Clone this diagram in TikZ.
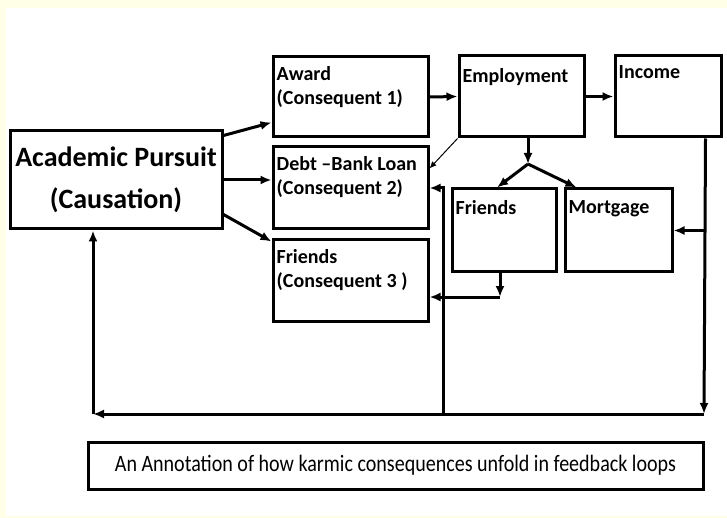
\documentclass[tikz,border=0pt]{standalone}
\usepackage{fontspec}
\setmainfont{Carlito}
\newfontfamily\notefont[FakeStretch=0.853]{Carlito}
\usetikzlibrary{arrows.meta}
\definecolor{paper}{HTML}{FFFFE8}
\tikzset{
  box/.style={draw,line width=3pt,inner sep=0pt},
  lbl/.style={font=\fontsize{20}{24}\selectfont\bfseries,align=left,inner sep=0pt,
    anchor=north west,xshift=5pt,yshift=-11pt},
  link/.style={line width=3pt,-{Latex[length=11pt,width=9pt]}},
  thinlink/.style={line width=1pt,-{Latex[length=7pt,width=6pt]}},
}
\begin{document}
\begin{tikzpicture}[x=1pt,y=-1pt]
  \useasboundingbox (0,0) rectangle (727,518);
  \fill[paper] (0,0) rectangle (727,518);
  \fill[white] (6,8) rectangle (727,516);

  \node[box,minimum width=212,minimum height=98,align=center,
    font=\fontsize{28}{42}\selectfont\bfseries] (acad) at (116,180) {Academic Pursuit\\(Causation)};
  \node[box,minimum width=155,minimum height=80,
    label={[lbl]north west:Award\\(Consequent 1)}] (award) at (350.5,97) {};
  \node[box,minimum width=155,minimum height=82,
    label={[lbl]north west:Debt --Bank Loan\\(Consequent 2)}] (debt) at (350.5,188) {};
  \node[box,minimum width=155,minimum height=81,
    label={[lbl]north west:Friends\\(Consequent 3 )}] (conseq3) at (350.5,280.5) {};
  \node[box,minimum width=125,minimum height=81,
    label={[lbl,yshift=-3pt]north west:Employment}] (employ) at (521.5,96.5) {};
  \node[box,minimum width=106,minimum height=81,
    label={[lbl]north west:Income}] (income) at (668,96.5) {};
  \node[box,minimum width=104,minimum height=83,
    label={[lbl,yshift=-2pt]north west:Friends}] (friends) at (504,230.5) {};
  \node[box,minimum width=107,minimum height=83,
    label={[lbl,yshift=-2pt]north west:Mortgage}] (mortgage) at (618.5,230.5) {};
  \node[box,minimum width=615,minimum height=47,
    font=\notefont\fontsize{23.5}{26}\selectfont] (note) at (395.5,465.5)
    {An Annotation of how karmic consequences unfold in feedback loops};

  \coordinate (fork) at (528,164);
  \coordinate (bendF) at (500,297);
  \coordinate (rb) at (704,414);
  \coordinate (mb) at (443,414);
  \coordinate (lb) at (93,414);

  \draw[link] ([yshift=-6]acad.north east) -- ([yshift=16]award.south west);
  \draw[link] (acad.east) -- (acad.east -| debt.west);
  \draw[link] ([yshift=16]acad.south east) -- ([yshift=-3]conseq3.north west);
  \draw[link] (award.east) -- (employ.west);
  \draw[link] (employ.east) -- (income.west);
  \draw[thinlink] (employ.south west) -- ([yshift=-23]debt.north east);
  \draw[link] ([xshift=6.5]employ.south) -- (fork);
  \draw[link] (fork) -- ([xshift=-7]friends.north);
  \draw[link] (fork) -- ([xshift=13]mortgage.north west);
  \draw[link] ([xshift=-17]income.south east) -- (rb);
  \draw[link] (mortgage.east -| rb) -- (mortgage.east);
  \draw[link] (rb) -- (lb);
  \draw[link] (lb) -- (lb |- acad.south);
  \draw[link] (mb) |- (debt.east);
  \draw[link] (friends.south -| bendF) -- (bendF);
  \draw[link] (bendF) -- (bendF -| conseq3.east);
\end{tikzpicture}
\end{document}
